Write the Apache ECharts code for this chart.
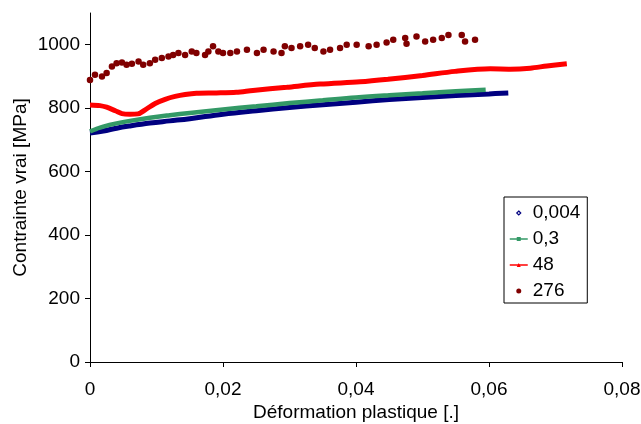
<!DOCTYPE html>
<html>
<head>
<meta charset="utf-8">
<script src="https://cdn.jsdelivr.net/npm/echarts@6/dist/echarts.min.js"></script>
<style>
html,body{margin:0;padding:0;background:#fff;}
#c{width:641px;height:424px;}
</style>
</head>
<body>
<div id="c"></div>
<script>
// Series names (legend)
const seriesNames = ['0,004', '0,3', '48', '276'];

// Axis ticks
const xTicks = [0, 0.02, 0.04, 0.06, 0.08];
const yTicks = [0, 200, 400, 600, 800, 1000];

// 0,004  (strain, stress)
const strain004 = [0, 0.002, 0.004, 0.006, 0.009, 0.012, 0.015, 0.02, 0.025, 0.03, 0.035, 0.04, 0.045, 0.05, 0.055, 0.06, 0.0629];
const stress004 = [722, 728, 737, 744, 753, 760, 767, 781, 792, 802, 811, 819, 827, 834, 840, 845, 848];

// 0,3
const strain03 = [0, 0.001, 0.002, 0.004, 0.006, 0.009, 0.012, 0.015, 0.02, 0.025, 0.03, 0.035, 0.04, 0.045, 0.05, 0.055, 0.0595];
const stress03 = [727, 735, 742, 752, 760, 770, 778, 785, 796, 806, 816, 825, 834, 841, 847, 853, 858];

// 48
const strain48 = [0, 0.0015, 0.0025, 0.0038, 0.0048, 0.006, 0.0072, 0.0083, 0.0098, 0.0113, 0.0128, 0.0143, 0.016, 0.019, 0.022, 0.0245, 0.0296, 0.0346, 0.0406, 0.0448, 0.05, 0.0549, 0.0602, 0.0632, 0.0662, 0.0687, 0.0717];
const stress48 = [810, 808, 803, 792, 783, 781, 782, 795, 815, 828, 837, 843, 847, 848, 850, 856, 866, 876, 883, 891, 903, 916, 924, 923, 926, 933, 940];

// 276 (scattered points)
const strain276 = [0, 0.00075, 0.0018, 0.0025, 0.0033, 0.004, 0.0048, 0.0055, 0.0063, 0.0073, 0.008, 0.009, 0.0098, 0.0108, 0.0118, 0.0125, 0.0133, 0.0143, 0.0153, 0.016, 0.0173, 0.0178, 0.0185, 0.0193, 0.02, 0.0211, 0.0221, 0.0236, 0.0251, 0.0261, 0.0276, 0.0288, 0.0293, 0.0303, 0.0316, 0.0328, 0.0338, 0.0351, 0.0361, 0.0376, 0.0386, 0.0401, 0.0419, 0.0431, 0.0446, 0.0456, 0.0474, 0.0476, 0.0491, 0.0504, 0.0516, 0.0529, 0.0539, 0.0559, 0.0564, 0.0579];
const stress276 = [889, 905, 900, 911, 931, 942, 944, 937, 940, 947, 937, 942, 953, 958, 963, 968, 974, 968, 979, 974, 968, 979, 995, 979, 974, 974, 979, 984, 974, 984, 979, 974, 995, 990, 995, 1000, 990, 979, 984, 990, 1000, 1000, 995, 1000, 1007, 1016, 1021, 1003, 1026, 1010, 1016, 1021, 1031, 1031, 1010, 1016];

const zip = (a, b) => a.map((v, i) => [v, b[i]]);

const FONT = 'Liberation Sans, Arial, sans-serif';
const FS = 19;

// small hollow diamond centred in an 18x5 legend icon box
const DIAMOND_ICON = 'path://M0,0M18,5M9,0.5L11,2.5L9,4.5L7,2.5Z';

const chart = echarts.init(document.getElementById('c'), null, {renderer: 'canvas'});
chart.setOption({
  animation: false,
  backgroundColor: '#fff',
  textStyle: {fontFamily: FONT},
  grid: {left: 90, right: 19, top: 13, bottom: 62, containLabel: false, outerBoundsMode: 'none'},
  xAxis: {
    type: 'value', min: 0, max: 0.08, interval: 0.02,
    name: 'Déformation plastique [.]', nameLocation: 'middle', nameGap: 41,
    nameMoveOverlap: false,
    nameTextStyle: {fontSize: FS, color: '#000', fontFamily: FONT},
    axisLine: {show: true, onZero: false, lineStyle: {color: '#000', width: 1}},
    axisTick: {show: true, inside: false, length: 5, lineStyle: {color: '#000'}},
    axisLabel: {fontSize: FS, color: '#000', margin: 18, fontFamily: FONT,
      formatter: v => v === 0 ? '0' : v.toFixed(2).replace('.', ',')},
    splitLine: {show: false}
  },
  yAxis: {
    type: 'value', min: 0, max: 1100, interval: 200,
    name: 'Contrainte vrai [MPa]', nameLocation: 'middle', nameGap: 60,
    nameMoveOverlap: false,
    nameTextStyle: {fontSize: FS, color: '#000', fontFamily: FONT},
    axisLine: {show: true, onZero: false, lineStyle: {color: '#000', width: 1}},
    axisTick: {show: true, inside: false, length: 5, lineStyle: {color: '#000'}, customValues: yTicks},
    axisLabel: {fontSize: FS, color: '#000', margin: 10, fontFamily: FONT, customValues: yTicks,
      formatter: v => String(v)},
    splitLine: {show: false}
  },
  legend: {
    orient: 'vertical', left: 504, top: 197,
    padding: [6, 7, 2, 5],
    itemWidth: 18, itemHeight: 5, itemGap: 6,
    borderColor: '#000', borderWidth: 1, backgroundColor: '#fff',
    textStyle: {fontSize: FS, color: '#000', lineHeight: 20, fontFamily: FONT},
    lineStyle: {width: 1.5},
    data: [
      {name: seriesNames[0], icon: DIAMOND_ICON,
        itemStyle: {color: '#fff', borderColor: '#000080', borderWidth: 1.2}},
      {name: seriesNames[1]},
      {name: seriesNames[2]},
      {name: seriesNames[3], icon: 'circle'}
    ]
  },
  series: [
    {
      name: seriesNames[0], type: 'line', data: zip(strain004, stress004),
      smooth: 0.4, showSymbol: false, symbol: 'emptyDiamond',
      itemStyle: {color: '#000080'},
      lineStyle: {color: '#000080', width: 5}
    },
    {
      name: seriesNames[1], type: 'line', data: zip(strain03, stress03),
      smooth: 0.4, showSymbol: false, symbol: 'rect',
      itemStyle: {color: '#339966'},
      lineStyle: {color: '#339966', width: 4.5}
    },
    {
      name: seriesNames[2], type: 'line', data: zip(strain48, stress48),
      smooth: 0.3, showSymbol: false, symbol: 'triangle',
      itemStyle: {color: '#ff0000'},
      lineStyle: {color: '#ff0000', width: 5}
    },
    {
      name: seriesNames[3], type: 'scatter', data: zip(strain276, stress276),
      symbol: 'circle', symbolSize: 6.5,
      itemStyle: {color: '#800000', opacity: 1}
    }
  ]
});
</script>
</body>
</html>
